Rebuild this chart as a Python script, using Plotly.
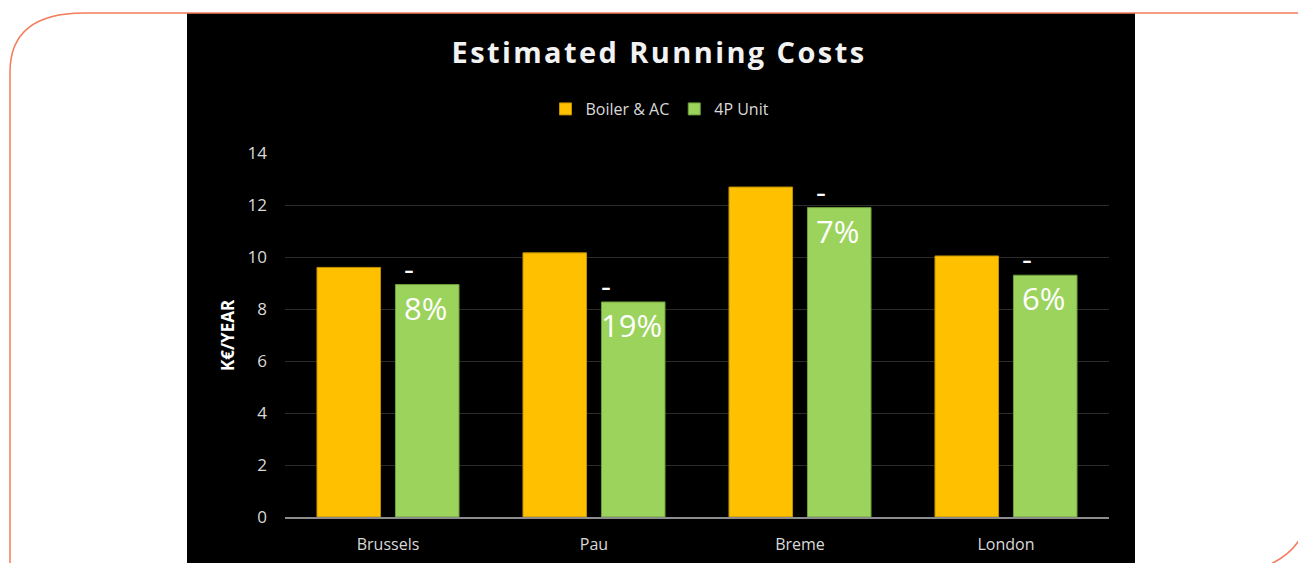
import plotly.graph_objects as go

# ---- data ----
cities = ["Brussels", "Pau", "Breme", "London"]
boiler_ac = [9.60, 10.16, 12.69, 10.04]
unit_4p = [8.94, 8.27, 11.90, 9.30]
savings = ["8%", "19%", "7%", "6%"]
y_ticks = [0, 2, 4, 6, 8, 10, 12, 14]

W, H = 1298, 563
L, R, T, B = 285, 1109, 153, 517  # plot area in pixels


def px(x):
    return (x - L) / (R - L)


def py(y):
    return (B - y) / (B - T)


fig = go.Figure()
fig.add_trace(go.Bar(name="Boiler & AC", x=cities, y=boiler_ac,
                     marker=dict(color="#FFC000", line=dict(color="#C09000", width=1))))
fig.add_trace(go.Bar(name="4P Unit", x=cities, y=unit_4p,
                     marker=dict(color="#9BD35C", line=dict(color="#6F9E3A", width=1))))

shapes = []
# black chart background
shapes.append(dict(type="rect", xref="paper", yref="paper", layer="below",
                   x0=px(187), x1=px(1135), y0=py(620), y1=py(13),
                   fillcolor="black", line=dict(width=0)))


def pt(x, y):
    return f"{px(x):.5f},{py(y):.5f}"


frame = (f"M {pt(10, 640)} L {pt(10, 72)} Q {pt(10, 13)} {pt(84, 13)} L {pt(1298, 13)}")
shapes.append(dict(type="path", xref="paper", yref="paper", path=frame,
                   line=dict(color="#F47C5A", width=1.5)))
corner = f"M {pt(1302, 535)} Q {pt(1292, 556)} {pt(1262, 568)}"
shapes.append(dict(type="path", xref="paper", yref="paper", path=corner,
                   line=dict(color="#F47C5A", width=1.5)))

annotations = []
for i, (v, s) in enumerate(zip(unit_4p, savings)):
    annotations.append(dict(x=i, y=v, xref="x", yref="y", text=f"-<br>{s}",
                            showarrow=False, align="left", xanchor="center",
                            yanchor="middle", xshift=37, yshift=-3,
                            font=dict(family="Open Sans", size=31, color="white")))

annotations.append(dict(x=px(227), y=0.5, xref="paper", yref="paper", text="<b>K€/YEAR</b>",
                        textangle=-90, showarrow=False, xanchor="center", yanchor="middle",
                        font=dict(family="Open Sans", size=17, color="white")))

fig.update_layout(
    width=W, height=H,
    margin=dict(l=L, r=W - R, t=T, b=H - B, pad=0, autoexpand=False),
    paper_bgcolor="white", plot_bgcolor="black",
    barmode="group", bargap=0.238, bargroupgap=0.19,
    title=dict(text="<b>Estimated Running Costs</b>", x=659 / W, y=1 - 53 / H,
               xref="container", yref="container", xanchor="center", yanchor="middle",
               font=dict(family="Open Sans", size=29, color="#F2F2F2")),
    legend=dict(orientation="h", x=px(660), y=py(109), xanchor="center", yanchor="middle",
                bgcolor="rgba(0,0,0,0)", font=dict(family="Open Sans", size=16, color="#D9D9D9")),
    font=dict(family="Open Sans", color="#D9D9D9"),
    shapes=shapes, annotations=annotations,
    xaxis=dict(showgrid=False, showline=True, linecolor="#8C8C8C", linewidth=2,
               automargin=False,
               ticks="", tickfont=dict(size=16, color="#D9D9D9"), ticklabelstandoff=12),
    yaxis=dict(range=[0, 14], tickvals=y_ticks, showgrid=True, gridcolor="#2B2B2B",
               automargin=False,
               gridwidth=1, zeroline=False, showline=False, ticks="",
               tickfont=dict(size=17, color="#D9D9D9"), ticklabelstandoff=17),
)

post = """
document.body.style.margin='0';
document.body.style.overflow='hidden';
document.querySelectorAll('.gtitle').forEach(function(t){t.style.letterSpacing='2.4px';});
"""
fig.write_html("out.html", config={"displayModeBar": False}, post_script=post)
